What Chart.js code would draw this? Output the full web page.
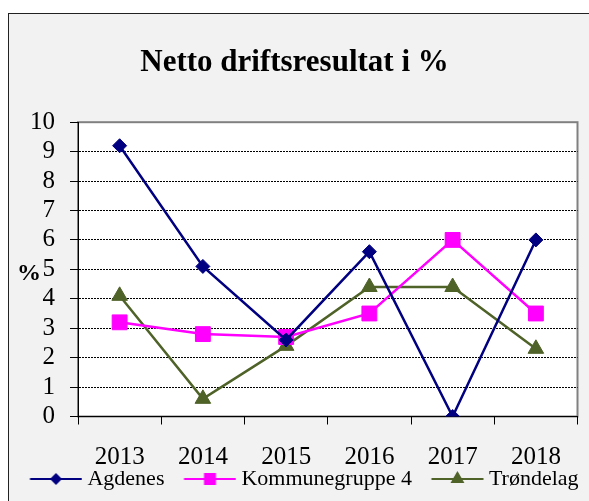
<!DOCTYPE html>
<html>
<head>
<meta charset="utf-8">
<script src="https://cdn.jsdelivr.net/npm/chart.js@4.4.1/dist/chart.umd.min.js"></script>
<style>
  html, body { margin: 0; padding: 0; background: #fff; }
  #frame {
    position: absolute; left: 8px; top: 13px; width: 620px; height: 520px;
    border: 1px solid #222; background: #f2f2f2;
  }
  #chart { position: absolute; left: 0; top: 0; }
</style>
</head>
<body>
<div id="frame"></div>
<canvas id="chart" width="589" height="501"></canvas>
<script>
const years = ['2013', '2014', '2015', '2016', '2017', '2018'];
const agdenes = [9.2, 5.1, 2.6, 5.6, 0, 6.0];
const kommunegruppe4 = [3.2, 2.8, 2.7, 3.5, 6.0, 3.5];
const trondelag = [4.1, 0.6, 2.4, 4.4, 4.4, 2.3];

const serif = "'Liberation Serif', 'Times New Roman', serif";

// small line + marker picture for the legend
function legendGlyph(color, style, size) {
  const c = document.createElement('canvas');
  c.width = 78;
  c.height = 22;
  const g = c.getContext('2d');
  const cx = 51.5, cy = 11;
  g.strokeStyle = color;
  g.lineWidth = 2;
  g.beginPath();
  g.moveTo(25.5, cy);
  g.lineTo(77.5, cy);
  g.stroke();
  g.fillStyle = color;
  g.beginPath();
  if (style === 'rectRot') {
    g.moveTo(cx - size, cy); g.lineTo(cx, cy - size);
    g.lineTo(cx + size, cy); g.lineTo(cx, cy + size);
  } else if (style === 'rect') {
    g.rect(cx - size, cy - size, size * 2, size * 2);
  } else {
    g.moveTo(cx, cy - size);
    g.lineTo(cx + size * 0.87, cy + size * 0.5);
    g.lineTo(cx - size * 0.87, cy + size * 0.5);
  }
  g.closePath();
  g.fill();
  return c;
}

const glyphs = [
  legendGlyph('#000080', 'rectRot', 6),
  legendGlyph('#ff00ff', 'rect', 6),
  legendGlyph('#4f6228', 'triangle', 8)
];

const plotFrame = {
  id: 'plotFrame',
  beforeDraw(chart) {
    const { ctx, chartArea: a } = chart;
    ctx.save();
    ctx.fillStyle = '#ffffff';
    ctx.fillRect(a.left, a.top, a.right - a.left, a.bottom - a.top);
    ctx.strokeStyle = '#808080';
    ctx.lineWidth = 2;
    ctx.strokeRect(a.left, a.top, a.right - a.left, a.bottom - a.top);
    ctx.restore();
  },
  afterDraw(chart) {
    const { ctx, chartArea: a } = chart;
    const y = chart.scales.y.getPixelForValue(5);
    ctx.save();
    ctx.font = 'bold 24px ' + serif;
    ctx.fillStyle = '#000';
    ctx.textAlign = 'center';
    ctx.textBaseline = 'middle';
    ctx.fillText('%', a.left - 49, y + 4);
    ctx.restore();
  }
};

const ctx = document.getElementById('chart').getContext('2d');
const chart = new Chart(ctx, {
  type: 'line',
  data: {
    labels: years,
    datasets: [{
      label: 'Agdenes',
      data: agdenes,
      borderColor: '#000080',
      backgroundColor: '#000080',
      pointStyle: 'rectRot',
      pointRadius: 7
    }, {
      label: 'Kommunegruppe 4',
      data: kommunegruppe4,
      borderColor: '#ff00ff',
      backgroundColor: '#ff00ff',
      pointStyle: 'rect',
      pointRadius: 10.5
    }, {
      label: 'Trøndelag',
      data: trondelag,
      borderColor: '#4f6228',
      backgroundColor: '#4f6228',
      pointStyle: 'triangle',
      pointRadius: 9
    }]
  },
  options: {
    responsive: false,
    animation: false,
    devicePixelRatio: 1,
    layout: { padding: { left: 8, right: 8, top: 0, bottom: 1 } },
    elements: {
      line: { borderWidth: 2.5, tension: 0 },
      point: { borderWidth: 1, hoverRadius: 7 }
    },
    scales: {
      x: {
        offset: true,
        grid: {
          offset: true,
          drawOnChartArea: false,
          tickLength: 8,
          tickColor: '#000'
        },
        border: { color: '#000', width: 1 },
        ticks: { color: '#000', padding: 18, font: { family: serif, size: 25 } },
        afterFit(scale) { scale.height = 51.5; }
      },
      y: {
        min: 0,
        max: 10,
        ticks: { stepSize: 1, autoSkip: false, color: '#000', padding: 15, font: { family: serif, size: 25 } },
        grid: {
          color: c => (c.tick && (c.tick.value === 0 || c.tick.value === 10)) ? 'rgba(0,0,0,0)' : '#000',
          lineWidth: 1,
          tickLength: 8,
          tickColor: '#000'
        },
        border: { color: '#000', width: 1, dash: [2, 1] },
        afterFit(scale) { scale.width = 70; }
      }
    },
    plugins: {
      title: {
        display: true,
        text: 'Netto driftsresultat i %',
        color: '#000',
        font: { family: serif, size: 31, weight: 'bold' },
        padding: { top: 44, bottom: 41 }
      },
      legend: {
        position: 'bottom',
        labels: {
          usePointStyle: true,
          pointStyleWidth: 66,
          padding: 0,
          color: '#000',
          font: { family: serif, size: 22 },
          generateLabels(chart) {
            const items = Chart.defaults.plugins.legend.labels.generateLabels(chart);
            items.forEach((it, i) => { it.pointStyle = glyphs[i]; });
            return items;
          }
        }
      },
      tooltip: { enabled: false }
    }
  },
  plugins: [plotFrame]
});
</script>
</body>
</html>
